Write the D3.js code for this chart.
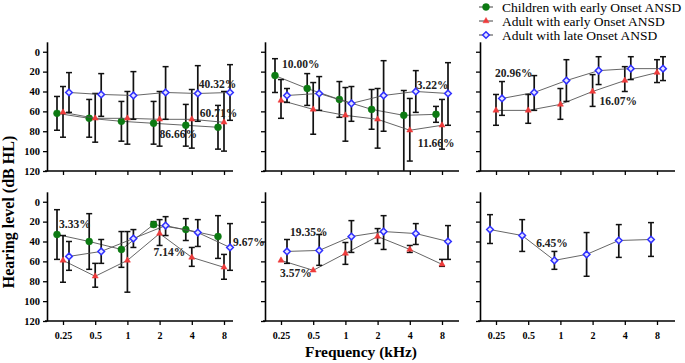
<!DOCTYPE html>
<html>
<head>
<meta charset="utf-8">
<script src="https://cdn.jsdelivr.net/npm/d3@7"></script>
<style>
  body { margin: 0; background: #fff; }
  svg text { font-family: "Liberation Serif", "Times New Roman", Times, "DejaVu Serif", serif !important; }
</style>
</head>
<body>
<div id="chart"></div>
<script>
(function () {
    'use strict';

    var serifFont = '"Liberation Serif", "Times New Roman", Times, "DejaVu Serif", serif';

    var freqs = ["0.25", "0.5", "1", "2", "4", "8"],
        yTicks = [0, 20, 40, 60, 80, 100, 120],
        seriesNames = ["Children with early Onset ANSD", "Adult with early Onset ANSD", "Adult with late Onset ANSD"];

    // top-left panel
    var tlChildMean = [62, 67, 70, 72, 74, 76],
        tlChildLo = [45, 48, 50, 50, 53, 54],
        tlChildHi = [79, 86, 90, 93, 95, 98],
        tlEarlyMean = [61, 67, 67, 68, 68, 71],
        tlEarlyLo = [35, 42, 40, 40, 38, 40],
        tlEarlyHi = [86, 91, 93, 95, 97, 100],
        tlLateMean = [41, 43, 44, 41, 42, 41],
        tlLateLo = [21, 22, 20, 15, 14, 13],
        tlLateHi = [61, 65, 68, 68, 70, 69];

    // top-middle panel
    var tmChildMean = [24, 37, 48, 58, 64, 63],
        tmChildLo = [7, 22, 30, 38, 39, 55],
        tmChildHi = [41, 54, 66, 78, 120, 71],
        tmEarlyMean = [49, 58, 64, 68, 79, 74],
        tmEarlyLo = [28, 31, 36, 37, 47, 48],
        tmEarlyHi = [67, 83, 90, 97, 110, 98],
        tmLateMean = [44, 42, 52, 44, 40, 42],
        tmLateLo = [37, 25, 35, 9, 19, 11],
        tmLateHi = [51, 59, 70, 80, 61, 74];

    // top-right panel
    var trEarlyMean = [59, 59, 53, 40, 29, 21],
        trEarlyLo = [43, 43, 37, 23, 15, 8],
        trEarlyHi = [74, 72, 68, 55, 40, 31],
        trLateMean = [47, 41, 29, 19, 17, 17],
        trLateLo = [30, 24, 8, 5, 5, 5],
        trLateHi = [64, 59, 50, 33, 28, 29];

    // bottom-left panel
    var blChildMean = [33, 40, 48, 23, 28, 35],
        blChildLo = [8, 12, 30, 20, 17, 14],
        blChildHi = [58, 68, 66, 25, 39, 57],
        blEarlyMean = [59, 75, 59, 32, 56, 66],
        blEarlyLo = [34, 62, 30, 18, 46, 53],
        blEarlyHi = [81, 86, 91, 44, 65, 78],
        blLateMean = [55, 50, 37, 24, 31, 46],
        blLateLo = [40, 38, 28, 15, 18, 22],
        blLateHi = [69, 62, 46, 34, 45, 69];

    // bottom-middle panel
    var bmEarlyMean = [59, 69, 52, 35, 48, 63],
        bmEarlyLo = [59, 69, 41, 27, 44, 58],
        bmEarlyHi = [59, 69, 63, 42, 51, 65],
        bmLateMean = [50, 49, 35, 30, 32, 40],
        bmLateLo = [38, 33, 19, 14, 22, 24],
        bmLateHi = [62, 64, 51, 48, 43, 58];

    // bottom-right panel
    var brLateMean = [28, 34, 59, 53, 39, 38],
        brLateLo = [13, 18, 50, 31, 23, 21],
        brLateHi = [42, 50, 68, 75, 56, 55];

    // percentage notes: panel index, frequency, level
    var noteText = ["40.32%", "60.71%", "86.66%", "10.00%", "3.22%", "11.66%", "20.96%",
                    "16.07%", "3.33%", "7.14%", "9.67%", "19.35%", "3.57%", "6.45%"],
        notePanel = [0, 0, 0, 1, 1, 1, 2, 2, 3, 3, 3, 4, 4, 5],
        noteFreq = ["4", "4", "2", "0.25", "4", "4", "0.25", "2", "0.25", "2", "8", "0.25", "0.25", "0.5"],
        noteLevel = [32.6, 62, 83, 12.4, 33.6, 92, 21.5, 50, 22.5, 50.7, 40.6, 30.9, 72, 41.6],
        noteDx = [7, 8, 0, 1, 7, 8, -1, 7, -4, -6, 9, 9, -1, 8];

    function ser(s, mean, lo, hi, shift) {
        return {s: s, mean: mean, lo: lo, hi: hi, shift: shift};
    }

    var panels = [
        [ser(0, tlChildMean, tlChildLo, tlChildHi), ser(1, tlEarlyMean, tlEarlyLo, tlEarlyHi), ser(2, tlLateMean, tlLateLo, tlLateHi)],
        [ser(0, tmChildMean, tmChildLo, tmChildHi), ser(1, tmEarlyMean, tmEarlyLo, tmEarlyHi), ser(2, tmLateMean, tmLateLo, tmLateHi)],
        [ser(1, trEarlyMean, trEarlyLo, trEarlyHi), ser(2, trLateMean, trLateLo, trLateHi)],
        [ser(0, blChildMean, blChildLo, blChildHi), ser(1, blEarlyMean, blEarlyLo, blEarlyHi), ser(2, blLateMean, blLateLo, blLateHi)],
        [ser(1, bmEarlyMean, bmEarlyLo, bmEarlyHi), ser(2, bmLateMean, bmLateLo, bmLateHi)],
        [ser(2, brLateMean, brLateLo, brLateHi, -6)]
    ];

    var width = 685, height = 363,
        colLeft = [47, 265, 480],
        colWidth = [186, 194, 195],
        rowTop = [41.8, 191.8],
        plotH = 129.2,
        shifts = [-6, 0, 6],
        fill = ["#0c7a12", "#ee3b3b", "#e4e4ff"],
        stroke = ["#0c7a12", "#ee3b3b", "#2f2fff"],
        symbols = [d3.symbolCircle, d3.symbolTriangle, d3.symbolDiamond2],
        symSize = [38, 16, 28];

    var svg = d3.select("#chart").append("svg")
        .attr("width", width)
        .attr("height", height)
        .style("font-family", serifFont);

    panels.forEach(function (list, p) {
        var col = p % 3, row = Math.floor(p / 3),
            left = colLeft[col], top = rowTop[row];

        var x = d3.scalePoint().domain(freqs).range([left + 16, left + 177]);
        var y = d3.scaleLinear().domain([-10, 120]).range([top, top + plotH]);

        var g = svg.append("g");

        // y axis
        var yAxis = g.append("g")
            .attr("transform", "translate(" + left + ",0)")
            .call(d3.axisLeft(y).tickValues(yTicks).tickSize(4).tickSizeOuter(0)
                .tickFormat(col === 0 ? d3.format("d") : ""));
        yAxis.attr("font-family", null);
        yAxis.select(".domain").attr("stroke-width", 1.6);
        yAxis.selectAll(".tick line").attr("stroke-width", 1.3);
        yAxis.selectAll("text").attr("font-size", 10.5).attr("font-weight", "bold")
            .style("font-family", serifFont).attr("fill", "#000");

        // x axis
        var xAxis = g.append("g")
            .attr("transform", "translate(0," + y(120) + ")")
            .call(d3.axisBottom(x).tickSize(4).tickSizeOuter(0)
                .tickFormat(row === 1 ? null : ""));
        xAxis.attr("font-family", null);
        xAxis.select(".domain").remove();
        xAxis.append("line")
            .attr("x1", left - 2).attr("x2", left + colWidth[col])
            .attr("stroke", "#000").attr("stroke-width", 1.6);
        xAxis.selectAll(".tick line").attr("stroke-width", 1.3);
        xAxis.selectAll("text").attr("font-size", 10).attr("font-weight", "bold")
            .style("font-family", serifFont).attr("fill", "#000")
            .attr("dy", "1.05em");

        list.forEach(function (d) {
            var off = d.shift !== undefined ? d.shift : shifts[d.s];
            var pts = freqs.map(function (f, i) {
                return {x: x(f) + off, m: d.mean[i], lo: d.lo[i], hi: d.hi[i]};
            });
            var sg = g.append("g");

            sg.append("path")
                .datum(pts)
                .attr("fill", "none")
                .attr("stroke", "#555")
                .attr("stroke-width", 0.9)
                .attr("d", d3.line().x(function (q) { return q.x; }).y(function (q) { return y(q.m); }));

            var bars = sg.selectAll("g.err")
                .data(pts.filter(function (q) { return q.hi - q.lo > 1; }))
                .enter().append("g").attr("class", "err");
            bars.append("line")
                .attr("x1", function (q) { return q.x; }).attr("x2", function (q) { return q.x; })
                .attr("y1", function (q) { return y(q.lo); })
                .attr("y2", function (q) { return y(Math.min(q.hi, 120)); })
                .attr("stroke", "#111").attr("stroke-width", 1.7);
            bars.selectAll("line.cap")
                .data(function (q) { return q.hi < 120 ? [[q.x, q.lo], [q.x, q.hi]] : [[q.x, q.lo]]; })
                .enter().append("line").attr("class", "cap")
                .attr("x1", function (c) { return c[0] - 3; }).attr("x2", function (c) { return c[0] + 3; })
                .attr("y1", function (c) { return y(c[1]); }).attr("y2", function (c) { return y(c[1]); })
                .attr("stroke", "#111").attr("stroke-width", 1.5);

            sg.selectAll("path.mk")
                .data(pts)
                .enter().append("path").attr("class", "mk")
                .attr("transform", function (q) { return "translate(" + q.x + "," + y(q.m) + ")"; })
                .attr("d", d3.symbol().type(symbols[d.s]).size(symSize[d.s]))
                .attr("fill", fill[d.s])
                .attr("stroke", stroke[d.s])
                .attr("stroke-width", d.s === 2 ? 1.5 : 0.5);
        });

        // percentage notes
        noteText.forEach(function (t, i) {
            if (notePanel[i] !== p) { return; }
            g.append("text")
                .attr("x", x(noteFreq[i]) + noteDx[i])
                .attr("y", y(noteLevel[i]))
                .attr("dominant-baseline", "central")
                .attr("font-size", 11.5)
                .attr("font-weight", "bold")
                .attr("fill", "#222")
                .text(t);
        });
    });

    // axis titles
    svg.append("text")
        .attr("x", 361).attr("y", 357)
        .attr("text-anchor", "middle")
        .attr("font-size", 15.5).attr("font-weight", "bold")
        .text("Frequency (kHz)");

    svg.append("text")
        .attr("transform", "translate(14,212) rotate(-90)")
        .attr("text-anchor", "middle")
        .attr("font-size", 16).attr("font-weight", "bold")
        .text("Hearing level (dB HL)");

    // legend
    var legend = svg.selectAll("g.legend")
        .data(seriesNames)
        .enter().append("g").attr("class", "legend")
        .attr("transform", function (d, i) { return "translate(486," + (7 + i * 14) + ")"; });
    legend.append("line")
        .attr("x1", -7).attr("x2", 7)
        .attr("stroke", "#444").attr("stroke-width", 1);
    legend.append("path")
        .attr("d", function (d, i) { return d3.symbol().type(symbols[i]).size(symSize[i])(); })
        .attr("fill", function (d, i) { return fill[i]; })
        .attr("stroke", function (d, i) { return stroke[i]; })
        .attr("stroke-width", function (d, i) { return i === 2 ? 1.5 : 0.5; });
    legend.append("text")
        .attr("x", 16).attr("dominant-baseline", "central")
        .attr("font-size", 13.5)
        .text(function (d) { return d; });
}());
</script>
</body>
</html>
